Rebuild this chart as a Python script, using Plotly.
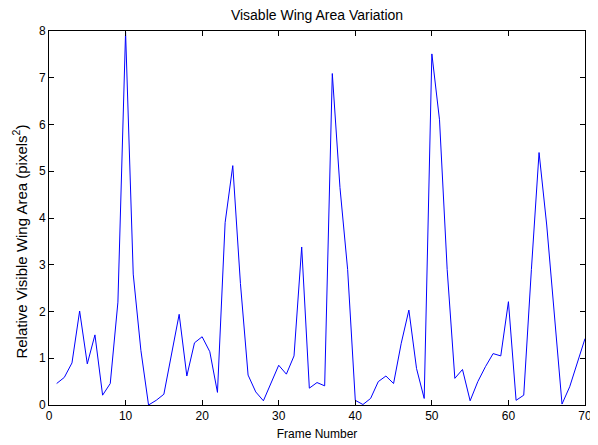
import plotly.graph_objects as go

# frame numbers and relative visible wing area
frames = list(range(1, 71))
area = [0.46, 0.59, 0.90, 2.01, 0.88, 1.50, 0.21, 0.46, 2.20, 7.98,
        2.80, 1.17, 0.00, 0.10, 0.23, 1.05, 1.94, 0.62, 1.33, 1.46,
        1.14, 0.27, 3.90, 5.12, 2.60, 0.64, 0.28, 0.09, 0.46, 0.85,
        0.66, 1.05, 3.38, 0.36, 0.48, 0.41, 7.09, 4.65, 2.90, 0.10,
        0.01, 0.14, 0.50, 0.62, 0.46, 1.32, 2.03, 0.78, 0.14, 7.51,
        6.10, 2.90, 0.57, 0.76, 0.09, 0.50, 0.82, 1.10, 1.05, 2.21,
        0.10, 0.21, 2.90, 5.40, 3.85, 1.90, 0.02, 0.39, 0.89, 1.42]

x_ticks = [0, 10, 20, 30, 40, 50, 60, 70]
y_ticks = [0, 1, 2, 3, 4, 5, 6, 7, 8]

FAMILY = 'Liberation Sans, Arial, sans-serif'
FONT = dict(family=FAMILY, size=12, color='black')

fig = go.Figure(go.Scatter(x=frames, y=area, mode='lines',
                           line=dict(color='#0000ff', width=1), showlegend=False))

ax = dict(showgrid=False, zeroline=False, showline=True, linecolor='black', linewidth=1,
          mirror='ticks', ticks='inside', ticklen=5, tickcolor='black', tickfont=FONT,
          automargin=False)
fig.update_xaxes(range=[0, 70], tickvals=x_ticks, title=dict(text='Frame Number', font=FONT, standoff=7), **ax)
fig.update_yaxes(range=[0, 8], tickvals=y_ticks, **ax)

# y label as annotation so it can sit where the original puts it
fig.add_annotation(text='Relative Visible Wing Area (pixels<sup>2</sup>)', textangle=-90,
                   xref='paper', yref='paper', x=0, y=0.437, xanchor='center', yanchor='middle',
                   xshift=-29, showarrow=False, font=dict(family=FAMILY, size=15, color='black'))

# page body adds an 8px margin, so the figure is 8px smaller than the window
fig.update_layout(
    title=dict(text='Visable Wing Area Variation', font=dict(family=FAMILY, size=14, color='black'),
               x=0.5, xanchor='center', xref='paper', y=0.983, yanchor='middle', automargin=False),
    width=590, height=437, plot_bgcolor='white', paper_bgcolor='white',
    margin=dict(l=41, r=13, t=23, b=40))

fig.write_html('out.html')
